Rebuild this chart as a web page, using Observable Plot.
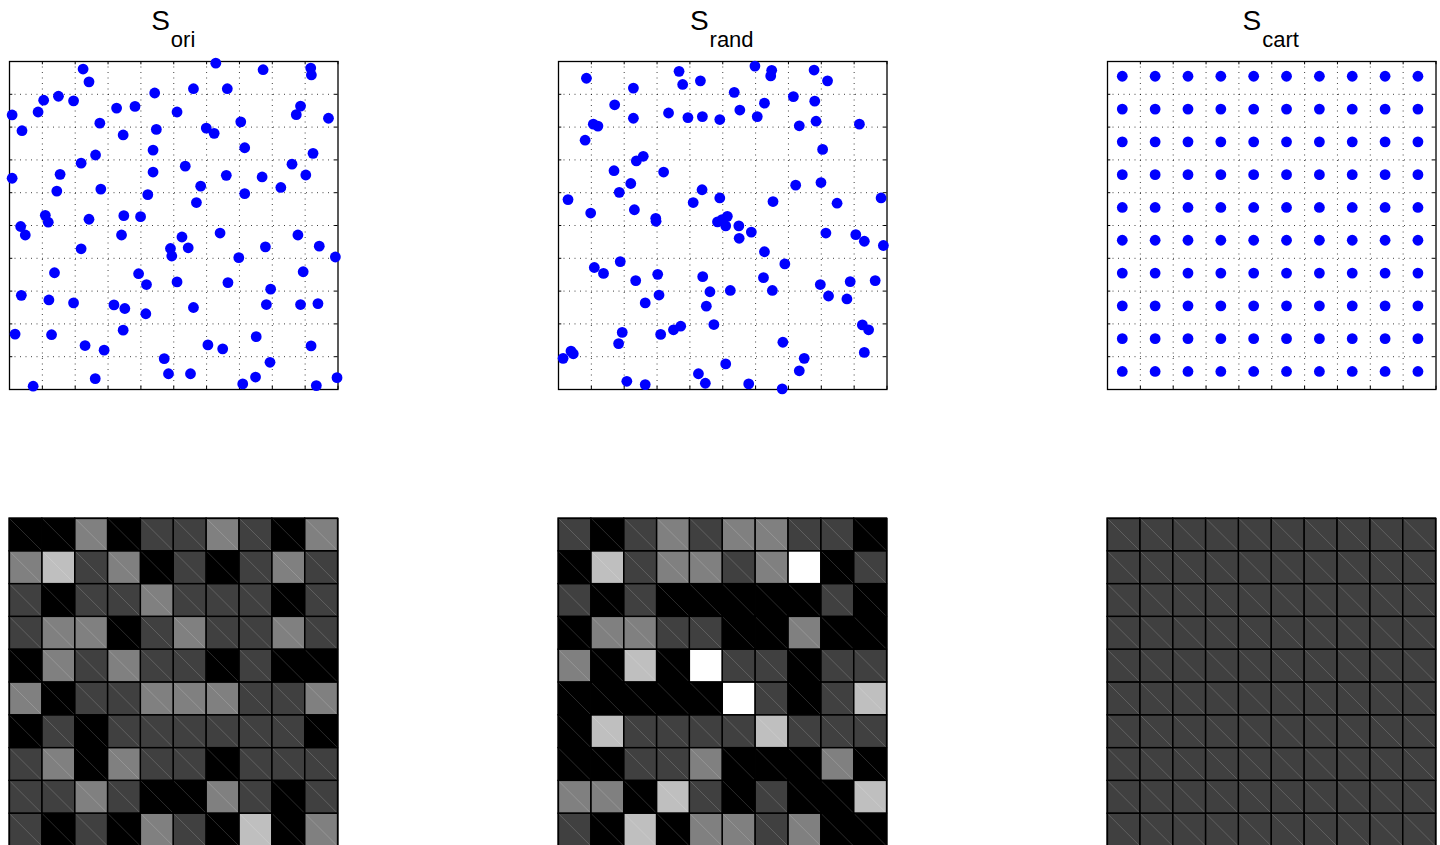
<!DOCTYPE html>
<html><head><meta charset="utf-8">
<script src="https://cdn.jsdelivr.net/npm/d3@7"></script>
<script src="https://cdn.jsdelivr.net/npm/@observablehq/plot@0.6"></script>
<style>
html,body{margin:0;padding:0;background:#fff;width:1440px;height:845px;overflow:hidden;position:relative;}
.panel{position:absolute;overflow:visible;}
.panel svg{max-width:none !important;display:block;}
.title{position:absolute;width:200px;text-align:center;font-family:"Liberation Sans",Arial,Helvetica,sans-serif;font-size:28px;line-height:28px;color:#000;white-space:nowrap;}
.title .sub{font-size:22px;position:relative;top:17px;margin-left:1px;}
</style></head><body>
<script>
// ---- titles ----
const titleMain = ["S", "S", "S"];
const titleSub = ["ori", "rand", "cart"];

// ---- point sets (grid units 0..10) ----
const oriX = [2.24,2.42,6.28,7.72,9.17,9.19,4.42,5.60,6.63,1.04,1.49,1.95,0.08,0.87,3.26,3.82,5.10,8.86,8.73,9.71,2.75,7.04,0.38,3.46,4.47,5.99,6.23,4.37,7.16,9.24,2.62,2.18,5.35,8.60,0.08,1.54,4.37,6.60,7.69,9.02,1.44,2.78,4.21,5.82,7.16,8.26,5.69,1.09,1.18,0.34,0.48,2.42,3.48,3.99,3.41,6.41,8.78,5.25,4.90,4.94,5.44,2.18,7.79,9.43,6.98,9.92,1.37,3.93,4.17,5.10,6.65,8.94,0.36,1.20,1.95,3.18,3.51,5.60,7.95,7.82,8.86,9.39,4.15,0.17,1.28,3.46,2.30,2.88,6.04,6.49,7.51,9.18,4.71,7.93,4.84,5.51,2.61,0.72,7.10,7.49,9.34,9.97];
const oriY = [9.77,9.38,9.95,9.75,9.80,9.59,9.04,9.17,9.17,8.82,8.94,8.80,8.37,8.46,8.58,8.63,8.46,8.64,8.38,8.27,8.12,8.16,7.89,7.76,7.93,7.97,7.81,7.30,7.37,7.20,7.15,6.90,6.81,6.87,6.44,6.56,6.63,6.53,6.48,6.54,6.05,6.11,5.94,6.20,5.97,6.16,5.70,5.31,5.10,4.97,4.71,5.19,5.30,5.27,4.71,4.77,4.71,4.65,4.30,4.07,4.32,4.29,4.35,4.37,4.02,4.04,3.56,3.53,3.20,3.28,3.26,3.59,2.87,2.73,2.64,2.58,2.47,2.50,3.06,2.59,2.59,2.62,2.31,1.69,1.67,1.81,1.34,1.20,1.36,1.24,1.61,1.33,0.94,0.83,0.48,0.48,0.33,0.10,0.17,0.38,0.12,0.36];

const randX = [0.85,3.67,3.78,4.32,5.98,6.49,6.46,7.78,8.19,2.28,5.35,1.71,2.28,3.35,3.94,4.38,4.91,5.52,6.27,6.05,7.15,7.80,7.84,7.33,9.16,1.06,1.20,0.81,2.58,8.04,2.37,1.69,3.20,2.20,1.85,4.37,7.22,7.99,0.29,0.98,2.31,2.96,2.97,4.10,4.91,4.84,4.98,5.14,6.53,8.48,9.82,5.09,5.49,5.50,5.87,6.27,8.14,9.05,9.31,9.89,1.88,1.09,1.37,2.35,3.02,4.39,5.23,6.24,6.51,6.89,7.97,8.88,9.64,3.06,2.64,4.61,4.50,8.22,8.78,1.94,1.83,0.38,0.45,3.11,3.50,3.72,4.73,6.83,9.25,9.44,9.31,0.14,2.08,2.64,4.26,4.47,5.09,5.79,6.81,7.48,7.33];
const randY = [9.49,9.70,9.30,9.41,9.86,9.73,9.56,9.74,9.41,9.19,9.06,8.68,8.27,8.43,8.29,8.32,8.23,8.52,8.73,8.32,8.93,8.79,8.18,8.04,8.09,8.09,8.03,7.60,7.11,7.32,6.97,6.67,6.63,6.28,6.01,6.09,6.23,6.31,5.79,5.38,5.48,5.22,5.13,5.70,5.84,5.11,5.18,5.28,5.73,5.68,5.84,4.99,4.99,4.61,4.80,4.20,4.77,4.72,4.52,4.39,3.90,3.72,3.54,3.32,3.51,3.44,3.02,3.41,3.02,3.83,3.20,3.29,3.32,2.88,2.64,2.98,2.54,2.85,2.76,1.74,1.40,1.17,1.09,1.68,1.82,1.93,1.98,1.44,1.97,1.82,1.13,0.95,0.25,0.15,0.48,0.19,0.78,0.17,0.02,0.95,0.57];

const cartCols = [0.45,1.45,2.45,3.45,4.45,5.45,6.45,7.45,8.45,9.45];
const cartRows = [0.55,1.55,2.55,3.55,4.55,5.55,6.55,7.55,8.55,9.55];

// ---- axis tick / grid positions ----
const tickValues = [0,1,2,3,4,5,6,7,8,9,10];
const gridValues = [1,2,3,4,5,6,7,8,9];

// ---- counts per cell (rows top -> bottom) ----
const oriCounts = [
  [0,0,2,0,1,1,2,1,0,2],
  [2,3,1,2,0,1,0,1,2,1],
  [1,0,1,1,2,1,1,1,0,1],
  [1,2,2,0,1,2,1,1,2,1],
  [0,2,1,2,1,1,0,1,0,0],
  [2,0,1,1,2,2,2,1,1,2],
  [0,1,0,1,1,1,1,1,1,0],
  [1,2,0,2,1,1,0,1,1,1],
  [1,1,2,1,0,0,2,1,0,1],
  [1,0,1,0,2,1,0,3,0,2]
];
const randCounts = [
  [1,0,1,2,1,2,2,1,1,0],
  [0,3,1,2,2,1,2,4,0,1],
  [1,0,1,0,0,0,0,0,1,0],
  [0,2,2,1,1,0,0,2,0,0],
  [2,0,3,0,4,1,1,0,1,1],
  [0,0,0,0,0,4,1,0,1,3],
  [0,3,1,1,1,1,3,1,1,1],
  [0,0,1,1,2,0,0,0,2,0],
  [2,2,0,3,1,0,1,0,0,3],
  [1,0,3,0,2,2,1,2,0,0]
];
const cartCounts = [
  [1,1,1,1,1,1,1,1,1,1],
  [1,1,1,1,1,1,1,1,1,1],
  [1,1,1,1,1,1,1,1,1,1],
  [1,1,1,1,1,1,1,1,1,1],
  [1,1,1,1,1,1,1,1,1,1],
  [1,1,1,1,1,1,1,1,1,1],
  [1,1,1,1,1,1,1,1,1,1],
  [1,1,1,1,1,1,1,1,1,1],
  [1,1,1,1,1,1,1,1,1,1],
  [1,1,1,1,1,1,1,1,1,1]
];

// ---- build tables ----
const oriPts = oriX.map((x, i) => ({x, y: oriY[i]}));
const randPts = randX.map((x, i) => ({x, y: randY[i]}));
const cartPts = cartRows.flatMap(y => cartCols.map(x => ({x, y})));
const toCells = counts => counts.flatMap((row, r) => row.map((count, c) => ({row: r, col: c, count})));

// ---- layout ----
const panelLeft = [9, 557.5, 1106.5];
const topY = 61, bottomY = 518;
const W = 328.5, H = 328;
const M = 12;

function place(el, left, top) {
  const wrap = document.createElement("div");
  wrap.className = "panel";
  wrap.style.left = (left - M) + "px";
  wrap.style.top = (top - M) + "px";
  wrap.style.width = (W + 2 * M) + "px";
  wrap.style.height = (H + 2 * M) + "px";
  wrap.appendChild(el);
  document.body.appendChild(wrap);
}

function scatter(pts) {
  return Plot.plot({
    width: W + 2 * M, height: H + 2 * M,
    margin: M,
    style: {background: "transparent", overflow: "visible", maxWidth: "none"},
    x: {domain: [0, 10], axis: null},
    y: {domain: [0, 10], axis: null},
    marks: [
      Plot.ruleX(gridValues, {x: d => d, stroke: "#000", strokeOpacity: 0.75, strokeDasharray: "1,4.5"}),
      Plot.ruleY(gridValues, {y: d => d, stroke: "#000", strokeOpacity: 0.75, strokeDasharray: "1,4.5"}),
      Plot.ruleX(tickValues, {x: d => d, y1: 0, y2: 0.1, stroke: "#000"}),
      Plot.ruleX(tickValues, {x: d => d, y1: 9.9, y2: 10, stroke: "#000"}),
      Plot.ruleY(tickValues, {y: d => d, x1: 0, x2: 0.1, stroke: "#000"}),
      Plot.ruleY(tickValues, {y: d => d, x1: 9.9, x2: 10, stroke: "#000"}),
      Plot.frame({stroke: "#000", strokeWidth: 1.3}),
      Plot.dot(pts, {x: "x", y: "y", r: 5.4, fill: "#0000ff", stroke: "none"})
    ]
  });
}

function heat(counts) {
  const cells = toCells(counts);
  return Plot.plot({
    width: W + 2 * M, height: H + 2 * M,
    margin: M,
    style: {background: "transparent", overflow: "visible", maxWidth: "none"},
    x: {domain: [0, 10], axis: null},
    y: {domain: [0, 10], reverse: true, axis: null},
    color: {type: "linear", domain: [0, 4], range: ["#000000", "#ffffff"], interpolate: "rgb"},
    marks: [
      Plot.rect(cells, {x1: "col", x2: d => d.col + 1, y1: "row", y2: d => d.row + 1, fill: "count"}),
      Plot.link(cells, {x1: "col", y1: "row", x2: d => d.col + 1, y2: d => d.row + 1, stroke: "#fff", strokeOpacity: 0.17, strokeWidth: 1}),
      Plot.rect(cells, {x1: "col", x2: d => d.col + 1, y1: "row", y2: d => d.row + 1, fill: "none", stroke: "#000", strokeWidth: 1.3}),
      Plot.frame({stroke: "#000", strokeWidth: 1.3})
    ]
  });
}

const pointSets = [oriPts, randPts, cartPts];
const countSets = [oriCounts, randCounts, cartCounts];

pointSets.forEach((pts, i) => place(scatter(pts), panelLeft[i], topY));
countSets.forEach((c, i) => place(heat(c), panelLeft[i], bottomY));

titleSub.forEach((s, i) => {
  const t = document.createElement("div");
  t.className = "title";
  t.style.left = (panelLeft[i] + W / 2 - 100) + "px";
  t.style.top = "7px";
  t.innerHTML = titleMain[i] + '<span class="sub">' + s + '</span>';
  document.body.appendChild(t);
});
</script>
</body></html>
